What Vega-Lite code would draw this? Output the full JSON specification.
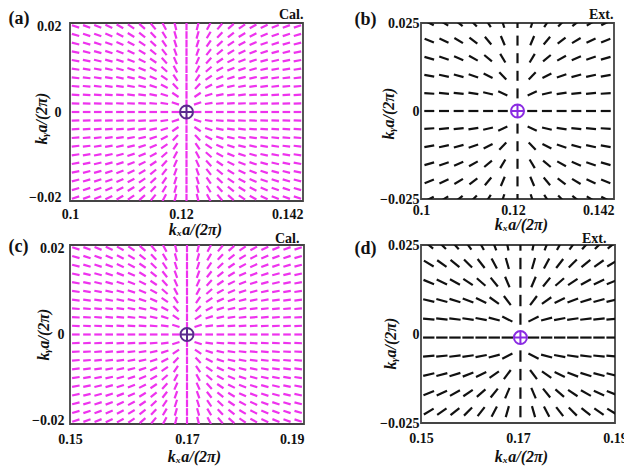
{
"$schema": "https://vega.github.io/schema/vega-lite/v6.json",
"background": "white",
"padding": {"left": 7, "top": 6, "right": 5, "bottom": 5},
"config": {
  "view": {"stroke": "#444", "strokeWidth": 1.8},
  "font": "Liberation Serif",
  "axis": {"grid": false, "ticks": false, "tickSize": 0, "domain": false, "labelFont": "Liberation Serif", "labelFontWeight": "bold", "labelFontSize": 14, "labelColor": "#111", "labelFlush": false, "labelOverlap": false, "format": ".3~f", "titleFont": "Liberation Serif", "titleFontWeight": "bold", "titleFontStyle": "italic", "titleFontSize": 16, "titleColor": "#111"}
},
"datasets": {
"cal": [
{"u":0.101,"v":0.151,"y":0.02,"t":-18},{"u":0.103,"v":0.1529,"y":0.02,"t":-20},{"u":0.105,"v":0.1548,"y":0.02,"t":-22},{"u":0.107,"v":0.1567,"y":0.02,"t":-25},{"u":0.109,"v":0.1586,"y":0.02,"t":-29},{"u":0.111,"v":0.1605,"y":0.02,"t":-34},{"u":0.113,"v":0.1624,"y":0.02,"t":-41},{"u":0.115,"v":0.1643,"y":0.02,"t":-50},{"u":0.117,"v":0.1662,"y":0.02,"t":-62},{"u":0.119,"v":0.1681,"y":0.02,"t":-76},{"u":0.121,"v":0.17,"y":0.02,"t":90},{"u":0.123,"v":0.1719,"y":0.02,"t":76},{"u":0.125,"v":0.1738,"y":0.02,"t":62},{"u":0.127,"v":0.1757,"y":0.02,"t":50},{"u":0.129,"v":0.1776,"y":0.02,"t":41},{"u":0.131,"v":0.1795,"y":0.02,"t":34},{"u":0.133,"v":0.1814,"y":0.02,"t":29},{"u":0.135,"v":0.1833,"y":0.02,"t":25},{"u":0.137,"v":0.1852,"y":0.02,"t":22},{"u":0.139,"v":0.1871,"y":0.02,"t":20},{"u":0.141,"v":0.189,"y":0.02,"t":18},
{"u":0.101,"v":0.151,"y":0.018,"t":-16},{"u":0.103,"v":0.1529,"y":0.018,"t":-18},{"u":0.105,"v":0.1548,"y":0.018,"t":-20},{"u":0.107,"v":0.1567,"y":0.018,"t":-23},{"u":0.109,"v":0.1586,"y":0.018,"t":-27},{"u":0.111,"v":0.1605,"y":0.018,"t":-31},{"u":0.113,"v":0.1624,"y":0.018,"t":-38},{"u":0.115,"v":0.1643,"y":0.018,"t":-47},{"u":0.117,"v":0.1662,"y":0.018,"t":-59},{"u":0.119,"v":0.1681,"y":0.018,"t":-74},{"u":0.121,"v":0.17,"y":0.018,"t":90},{"u":0.123,"v":0.1719,"y":0.018,"t":74},{"u":0.125,"v":0.1738,"y":0.018,"t":59},{"u":0.127,"v":0.1757,"y":0.018,"t":47},{"u":0.129,"v":0.1776,"y":0.018,"t":38},{"u":0.131,"v":0.1795,"y":0.018,"t":31},{"u":0.133,"v":0.1814,"y":0.018,"t":27},{"u":0.135,"v":0.1833,"y":0.018,"t":23},{"u":0.137,"v":0.1852,"y":0.018,"t":20},{"u":0.139,"v":0.1871,"y":0.018,"t":18},{"u":0.141,"v":0.189,"y":0.018,"t":16},
{"u":0.101,"v":0.151,"y":0.016,"t":-14},{"u":0.103,"v":0.1529,"y":0.016,"t":-16},{"u":0.105,"v":0.1548,"y":0.016,"t":-18},{"u":0.107,"v":0.1567,"y":0.016,"t":-20},{"u":0.109,"v":0.1586,"y":0.016,"t":-24},{"u":0.111,"v":0.1605,"y":0.016,"t":-28},{"u":0.113,"v":0.1624,"y":0.016,"t":-34},{"u":0.115,"v":0.1643,"y":0.016,"t":-43},{"u":0.117,"v":0.1662,"y":0.016,"t":-56},{"u":0.119,"v":0.1681,"y":0.016,"t":-72},{"u":0.121,"v":0.17,"y":0.016,"t":90},{"u":0.123,"v":0.1719,"y":0.016,"t":72},{"u":0.125,"v":0.1738,"y":0.016,"t":56},{"u":0.127,"v":0.1757,"y":0.016,"t":43},{"u":0.129,"v":0.1776,"y":0.016,"t":34},{"u":0.131,"v":0.1795,"y":0.016,"t":28},{"u":0.133,"v":0.1814,"y":0.016,"t":24},{"u":0.135,"v":0.1833,"y":0.016,"t":20},{"u":0.137,"v":0.1852,"y":0.016,"t":18},{"u":0.139,"v":0.1871,"y":0.016,"t":16},{"u":0.141,"v":0.189,"y":0.016,"t":14},
{"u":0.101,"v":0.151,"y":0.014,"t":-12},{"u":0.103,"v":0.1529,"y":0.014,"t":-14},{"u":0.105,"v":0.1548,"y":0.014,"t":-15},{"u":0.107,"v":0.1567,"y":0.014,"t":-18},{"u":0.109,"v":0.1586,"y":0.014,"t":-21},{"u":0.111,"v":0.1605,"y":0.014,"t":-25},{"u":0.113,"v":0.1624,"y":0.014,"t":-31},{"u":0.115,"v":0.1643,"y":0.014,"t":-39},{"u":0.117,"v":0.1662,"y":0.014,"t":-52},{"u":0.119,"v":0.1681,"y":0.014,"t":-70},{"u":0.121,"v":0.17,"y":0.014,"t":90},{"u":0.123,"v":0.1719,"y":0.014,"t":70},{"u":0.125,"v":0.1738,"y":0.014,"t":52},{"u":0.127,"v":0.1757,"y":0.014,"t":39},{"u":0.129,"v":0.1776,"y":0.014,"t":31},{"u":0.131,"v":0.1795,"y":0.014,"t":25},{"u":0.133,"v":0.1814,"y":0.014,"t":21},{"u":0.135,"v":0.1833,"y":0.014,"t":18},{"u":0.137,"v":0.1852,"y":0.014,"t":15},{"u":0.139,"v":0.1871,"y":0.014,"t":14},{"u":0.141,"v":0.189,"y":0.014,"t":12},
{"u":0.101,"v":0.151,"y":0.012,"t":-10},{"u":0.103,"v":0.1529,"y":0.012,"t":-12},{"u":0.105,"v":0.1548,"y":0.012,"t":-13},{"u":0.107,"v":0.1567,"y":0.012,"t":-15},{"u":0.109,"v":0.1586,"y":0.012,"t":-18},{"u":0.111,"v":0.1605,"y":0.012,"t":-21},{"u":0.113,"v":0.1624,"y":0.012,"t":-27},{"u":0.115,"v":0.1643,"y":0.012,"t":-34},{"u":0.117,"v":0.1662,"y":0.012,"t":-47},{"u":0.119,"v":0.1681,"y":0.012,"t":-66},{"u":0.121,"v":0.17,"y":0.012,"t":90},{"u":0.123,"v":0.1719,"y":0.012,"t":66},{"u":0.125,"v":0.1738,"y":0.012,"t":47},{"u":0.127,"v":0.1757,"y":0.012,"t":34},{"u":0.129,"v":0.1776,"y":0.012,"t":27},{"u":0.131,"v":0.1795,"y":0.012,"t":21},{"u":0.133,"v":0.1814,"y":0.012,"t":18},{"u":0.135,"v":0.1833,"y":0.012,"t":15},{"u":0.137,"v":0.1852,"y":0.012,"t":13},{"u":0.139,"v":0.1871,"y":0.012,"t":12},{"u":0.141,"v":0.189,"y":0.012,"t":10},
{"u":0.101,"v":0.151,"y":0.01,"t":-8},{"u":0.103,"v":0.1529,"y":0.01,"t":-9},{"u":0.105,"v":0.1548,"y":0.01,"t":-11},{"u":0.107,"v":0.1567,"y":0.01,"t":-12},{"u":0.109,"v":0.1586,"y":0.01,"t":-15},{"u":0.111,"v":0.1605,"y":0.01,"t":-18},{"u":0.113,"v":0.1624,"y":0.01,"t":-22},{"u":0.115,"v":0.1643,"y":0.01,"t":-29},{"u":0.117,"v":0.1662,"y":0.01,"t":-41},{"u":0.119,"v":0.1681,"y":0.01,"t":-62},{"u":0.121,"v":0.17,"y":0.01,"t":90},{"u":0.123,"v":0.1719,"y":0.01,"t":62},{"u":0.125,"v":0.1738,"y":0.01,"t":41},{"u":0.127,"v":0.1757,"y":0.01,"t":29},{"u":0.129,"v":0.1776,"y":0.01,"t":22},{"u":0.131,"v":0.1795,"y":0.01,"t":18},{"u":0.133,"v":0.1814,"y":0.01,"t":15},{"u":0.135,"v":0.1833,"y":0.01,"t":12},{"u":0.137,"v":0.1852,"y":0.01,"t":11},{"u":0.139,"v":0.1871,"y":0.01,"t":9},{"u":0.141,"v":0.189,"y":0.01,"t":8},
{"u":0.101,"v":0.151,"y":0.008,"t":-7},{"u":0.103,"v":0.1529,"y":0.008,"t":-7},{"u":0.105,"v":0.1548,"y":0.008,"t":-8},{"u":0.107,"v":0.1567,"y":0.008,"t":-10},{"u":0.109,"v":0.1586,"y":0.008,"t":-12},{"u":0.111,"v":0.1605,"y":0.008,"t":-14},{"u":0.113,"v":0.1624,"y":0.008,"t":-18},{"u":0.115,"v":0.1643,"y":0.008,"t":-24},{"u":0.117,"v":0.1662,"y":0.008,"t":-34},{"u":0.119,"v":0.1681,"y":0.008,"t":-56},{"u":0.121,"v":0.17,"y":0.008,"t":90},{"u":0.123,"v":0.1719,"y":0.008,"t":56},{"u":0.125,"v":0.1738,"y":0.008,"t":34},{"u":0.127,"v":0.1757,"y":0.008,"t":24},{"u":0.129,"v":0.1776,"y":0.008,"t":18},{"u":0.131,"v":0.1795,"y":0.008,"t":14},{"u":0.133,"v":0.1814,"y":0.008,"t":12},{"u":0.135,"v":0.1833,"y":0.008,"t":10},{"u":0.137,"v":0.1852,"y":0.008,"t":8},{"u":0.139,"v":0.1871,"y":0.008,"t":7},{"u":0.141,"v":0.189,"y":0.008,"t":7},
{"u":0.101,"v":0.151,"y":0.006,"t":-5},{"u":0.103,"v":0.1529,"y":0.006,"t":-5},{"u":0.105,"v":0.1548,"y":0.006,"t":-6},{"u":0.107,"v":0.1567,"y":0.006,"t":-7},{"u":0.109,"v":0.1586,"y":0.006,"t":-8},{"u":0.111,"v":0.1605,"y":0.006,"t":-10},{"u":0.113,"v":0.1624,"y":0.006,"t":-13},{"u":0.115,"v":0.1643,"y":0.006,"t":-18},{"u":0.117,"v":0.1662,"y":0.006,"t":-27},{"u":0.119,"v":0.1681,"y":0.006,"t":-47},{"u":0.121,"v":0.17,"y":0.006,"t":90},{"u":0.123,"v":0.1719,"y":0.006,"t":47},{"u":0.125,"v":0.1738,"y":0.006,"t":27},{"u":0.127,"v":0.1757,"y":0.006,"t":18},{"u":0.129,"v":0.1776,"y":0.006,"t":13},{"u":0.131,"v":0.1795,"y":0.006,"t":10},{"u":0.133,"v":0.1814,"y":0.006,"t":8},{"u":0.135,"v":0.1833,"y":0.006,"t":7},{"u":0.137,"v":0.1852,"y":0.006,"t":6},{"u":0.139,"v":0.1871,"y":0.006,"t":5},{"u":0.141,"v":0.189,"y":0.006,"t":5},
{"u":0.101,"v":0.151,"y":0.004,"t":-3},{"u":0.103,"v":0.1529,"y":0.004,"t":-3},{"u":0.105,"v":0.1548,"y":0.004,"t":-4},{"u":0.107,"v":0.1567,"y":0.004,"t":-5},{"u":0.109,"v":0.1586,"y":0.004,"t":-5},{"u":0.111,"v":0.1605,"y":0.004,"t":-7},{"u":0.113,"v":0.1624,"y":0.004,"t":-8},{"u":0.115,"v":0.1643,"y":0.004,"t":-12},{"u":0.117,"v":0.1662,"y":0.004,"t":-18},{"u":0.119,"v":0.1681,"y":0.004,"t":-34},{"u":0.121,"v":0.17,"y":0.004,"t":90},{"u":0.123,"v":0.1719,"y":0.004,"t":34},{"u":0.125,"v":0.1738,"y":0.004,"t":18},{"u":0.127,"v":0.1757,"y":0.004,"t":12},{"u":0.129,"v":0.1776,"y":0.004,"t":8},{"u":0.131,"v":0.1795,"y":0.004,"t":7},{"u":0.133,"v":0.1814,"y":0.004,"t":5},{"u":0.135,"v":0.1833,"y":0.004,"t":5},{"u":0.137,"v":0.1852,"y":0.004,"t":4},{"u":0.139,"v":0.1871,"y":0.004,"t":3},{"u":0.141,"v":0.189,"y":0.004,"t":3},
{"u":0.101,"v":0.151,"y":0.002,"t":-2},{"u":0.103,"v":0.1529,"y":0.002,"t":-2},{"u":0.105,"v":0.1548,"y":0.002,"t":-2},{"u":0.107,"v":0.1567,"y":0.002,"t":-2},{"u":0.109,"v":0.1586,"y":0.002,"t":-3},{"u":0.111,"v":0.1605,"y":0.002,"t":-3},{"u":0.113,"v":0.1624,"y":0.002,"t":-4},{"u":0.115,"v":0.1643,"y":0.002,"t":-5},{"u":0.117,"v":0.1662,"y":0.002,"t":-8},{"u":0.119,"v":0.1681,"y":0.002,"t":-18},{"u":0.121,"v":0.17,"y":0.002,"t":90},{"u":0.123,"v":0.1719,"y":0.002,"t":18},{"u":0.125,"v":0.1738,"y":0.002,"t":8},{"u":0.127,"v":0.1757,"y":0.002,"t":5},{"u":0.129,"v":0.1776,"y":0.002,"t":4},{"u":0.131,"v":0.1795,"y":0.002,"t":3},{"u":0.133,"v":0.1814,"y":0.002,"t":3},{"u":0.135,"v":0.1833,"y":0.002,"t":2},{"u":0.137,"v":0.1852,"y":0.002,"t":2},{"u":0.139,"v":0.1871,"y":0.002,"t":2},{"u":0.141,"v":0.189,"y":0.002,"t":2},
{"u":0.101,"v":0.151,"y":0,"t":0},{"u":0.103,"v":0.1529,"y":0,"t":0},{"u":0.105,"v":0.1548,"y":0,"t":0},{"u":0.107,"v":0.1567,"y":0,"t":0},{"u":0.109,"v":0.1586,"y":0,"t":0},{"u":0.111,"v":0.1605,"y":0,"t":0},{"u":0.113,"v":0.1624,"y":0,"t":0},{"u":0.115,"v":0.1643,"y":0,"t":0},{"u":0.117,"v":0.1662,"y":0,"t":0},{"u":0.119,"v":0.1681,"y":0,"t":0},{"u":0.123,"v":0.1719,"y":0,"t":0},{"u":0.125,"v":0.1738,"y":0,"t":0},{"u":0.127,"v":0.1757,"y":0,"t":0},{"u":0.129,"v":0.1776,"y":0,"t":0},{"u":0.131,"v":0.1795,"y":0,"t":0},{"u":0.133,"v":0.1814,"y":0,"t":0},{"u":0.135,"v":0.1833,"y":0,"t":0},{"u":0.137,"v":0.1852,"y":0,"t":0},{"u":0.139,"v":0.1871,"y":0,"t":0},{"u":0.141,"v":0.189,"y":0,"t":0},
{"u":0.101,"v":0.151,"y":-0.002,"t":2},{"u":0.103,"v":0.1529,"y":-0.002,"t":2},{"u":0.105,"v":0.1548,"y":-0.002,"t":2},{"u":0.107,"v":0.1567,"y":-0.002,"t":2},{"u":0.109,"v":0.1586,"y":-0.002,"t":3},{"u":0.111,"v":0.1605,"y":-0.002,"t":3},{"u":0.113,"v":0.1624,"y":-0.002,"t":4},{"u":0.115,"v":0.1643,"y":-0.002,"t":5},{"u":0.117,"v":0.1662,"y":-0.002,"t":8},{"u":0.119,"v":0.1681,"y":-0.002,"t":18},{"u":0.121,"v":0.17,"y":-0.002,"t":90},{"u":0.123,"v":0.1719,"y":-0.002,"t":-18},{"u":0.125,"v":0.1738,"y":-0.002,"t":-8},{"u":0.127,"v":0.1757,"y":-0.002,"t":-5},{"u":0.129,"v":0.1776,"y":-0.002,"t":-4},{"u":0.131,"v":0.1795,"y":-0.002,"t":-3},{"u":0.133,"v":0.1814,"y":-0.002,"t":-3},{"u":0.135,"v":0.1833,"y":-0.002,"t":-2},{"u":0.137,"v":0.1852,"y":-0.002,"t":-2},{"u":0.139,"v":0.1871,"y":-0.002,"t":-2},{"u":0.141,"v":0.189,"y":-0.002,"t":-2},
{"u":0.101,"v":0.151,"y":-0.004,"t":3},{"u":0.103,"v":0.1529,"y":-0.004,"t":3},{"u":0.105,"v":0.1548,"y":-0.004,"t":4},{"u":0.107,"v":0.1567,"y":-0.004,"t":5},{"u":0.109,"v":0.1586,"y":-0.004,"t":5},{"u":0.111,"v":0.1605,"y":-0.004,"t":7},{"u":0.113,"v":0.1624,"y":-0.004,"t":8},{"u":0.115,"v":0.1643,"y":-0.004,"t":12},{"u":0.117,"v":0.1662,"y":-0.004,"t":18},{"u":0.119,"v":0.1681,"y":-0.004,"t":34},{"u":0.121,"v":0.17,"y":-0.004,"t":90},{"u":0.123,"v":0.1719,"y":-0.004,"t":-34},{"u":0.125,"v":0.1738,"y":-0.004,"t":-18},{"u":0.127,"v":0.1757,"y":-0.004,"t":-12},{"u":0.129,"v":0.1776,"y":-0.004,"t":-8},{"u":0.131,"v":0.1795,"y":-0.004,"t":-7},{"u":0.133,"v":0.1814,"y":-0.004,"t":-5},{"u":0.135,"v":0.1833,"y":-0.004,"t":-5},{"u":0.137,"v":0.1852,"y":-0.004,"t":-4},{"u":0.139,"v":0.1871,"y":-0.004,"t":-3},{"u":0.141,"v":0.189,"y":-0.004,"t":-3},
{"u":0.101,"v":0.151,"y":-0.006,"t":5},{"u":0.103,"v":0.1529,"y":-0.006,"t":5},{"u":0.105,"v":0.1548,"y":-0.006,"t":6},{"u":0.107,"v":0.1567,"y":-0.006,"t":7},{"u":0.109,"v":0.1586,"y":-0.006,"t":8},{"u":0.111,"v":0.1605,"y":-0.006,"t":10},{"u":0.113,"v":0.1624,"y":-0.006,"t":13},{"u":0.115,"v":0.1643,"y":-0.006,"t":18},{"u":0.117,"v":0.1662,"y":-0.006,"t":27},{"u":0.119,"v":0.1681,"y":-0.006,"t":47},{"u":0.121,"v":0.17,"y":-0.006,"t":90},{"u":0.123,"v":0.1719,"y":-0.006,"t":-47},{"u":0.125,"v":0.1738,"y":-0.006,"t":-27},{"u":0.127,"v":0.1757,"y":-0.006,"t":-18},{"u":0.129,"v":0.1776,"y":-0.006,"t":-13},{"u":0.131,"v":0.1795,"y":-0.006,"t":-10},{"u":0.133,"v":0.1814,"y":-0.006,"t":-8},{"u":0.135,"v":0.1833,"y":-0.006,"t":-7},{"u":0.137,"v":0.1852,"y":-0.006,"t":-6},{"u":0.139,"v":0.1871,"y":-0.006,"t":-5},{"u":0.141,"v":0.189,"y":-0.006,"t":-5},
{"u":0.101,"v":0.151,"y":-0.008,"t":7},{"u":0.103,"v":0.1529,"y":-0.008,"t":7},{"u":0.105,"v":0.1548,"y":-0.008,"t":8},{"u":0.107,"v":0.1567,"y":-0.008,"t":10},{"u":0.109,"v":0.1586,"y":-0.008,"t":12},{"u":0.111,"v":0.1605,"y":-0.008,"t":14},{"u":0.113,"v":0.1624,"y":-0.008,"t":18},{"u":0.115,"v":0.1643,"y":-0.008,"t":24},{"u":0.117,"v":0.1662,"y":-0.008,"t":34},{"u":0.119,"v":0.1681,"y":-0.008,"t":56},{"u":0.121,"v":0.17,"y":-0.008,"t":90},{"u":0.123,"v":0.1719,"y":-0.008,"t":-56},{"u":0.125,"v":0.1738,"y":-0.008,"t":-34},{"u":0.127,"v":0.1757,"y":-0.008,"t":-24},{"u":0.129,"v":0.1776,"y":-0.008,"t":-18},{"u":0.131,"v":0.1795,"y":-0.008,"t":-14},{"u":0.133,"v":0.1814,"y":-0.008,"t":-12},{"u":0.135,"v":0.1833,"y":-0.008,"t":-10},{"u":0.137,"v":0.1852,"y":-0.008,"t":-8},{"u":0.139,"v":0.1871,"y":-0.008,"t":-7},{"u":0.141,"v":0.189,"y":-0.008,"t":-7},
{"u":0.101,"v":0.151,"y":-0.01,"t":8},{"u":0.103,"v":0.1529,"y":-0.01,"t":9},{"u":0.105,"v":0.1548,"y":-0.01,"t":11},{"u":0.107,"v":0.1567,"y":-0.01,"t":12},{"u":0.109,"v":0.1586,"y":-0.01,"t":15},{"u":0.111,"v":0.1605,"y":-0.01,"t":18},{"u":0.113,"v":0.1624,"y":-0.01,"t":22},{"u":0.115,"v":0.1643,"y":-0.01,"t":29},{"u":0.117,"v":0.1662,"y":-0.01,"t":41},{"u":0.119,"v":0.1681,"y":-0.01,"t":62},{"u":0.121,"v":0.17,"y":-0.01,"t":90},{"u":0.123,"v":0.1719,"y":-0.01,"t":-62},{"u":0.125,"v":0.1738,"y":-0.01,"t":-41},{"u":0.127,"v":0.1757,"y":-0.01,"t":-29},{"u":0.129,"v":0.1776,"y":-0.01,"t":-22},{"u":0.131,"v":0.1795,"y":-0.01,"t":-18},{"u":0.133,"v":0.1814,"y":-0.01,"t":-15},{"u":0.135,"v":0.1833,"y":-0.01,"t":-12},{"u":0.137,"v":0.1852,"y":-0.01,"t":-11},{"u":0.139,"v":0.1871,"y":-0.01,"t":-9},{"u":0.141,"v":0.189,"y":-0.01,"t":-8},
{"u":0.101,"v":0.151,"y":-0.012,"t":10},{"u":0.103,"v":0.1529,"y":-0.012,"t":12},{"u":0.105,"v":0.1548,"y":-0.012,"t":13},{"u":0.107,"v":0.1567,"y":-0.012,"t":15},{"u":0.109,"v":0.1586,"y":-0.012,"t":18},{"u":0.111,"v":0.1605,"y":-0.012,"t":21},{"u":0.113,"v":0.1624,"y":-0.012,"t":27},{"u":0.115,"v":0.1643,"y":-0.012,"t":34},{"u":0.117,"v":0.1662,"y":-0.012,"t":47},{"u":0.119,"v":0.1681,"y":-0.012,"t":66},{"u":0.121,"v":0.17,"y":-0.012,"t":90},{"u":0.123,"v":0.1719,"y":-0.012,"t":-66},{"u":0.125,"v":0.1738,"y":-0.012,"t":-47},{"u":0.127,"v":0.1757,"y":-0.012,"t":-34},{"u":0.129,"v":0.1776,"y":-0.012,"t":-27},{"u":0.131,"v":0.1795,"y":-0.012,"t":-21},{"u":0.133,"v":0.1814,"y":-0.012,"t":-18},{"u":0.135,"v":0.1833,"y":-0.012,"t":-15},{"u":0.137,"v":0.1852,"y":-0.012,"t":-13},{"u":0.139,"v":0.1871,"y":-0.012,"t":-12},{"u":0.141,"v":0.189,"y":-0.012,"t":-10},
{"u":0.101,"v":0.151,"y":-0.014,"t":12},{"u":0.103,"v":0.1529,"y":-0.014,"t":14},{"u":0.105,"v":0.1548,"y":-0.014,"t":15},{"u":0.107,"v":0.1567,"y":-0.014,"t":18},{"u":0.109,"v":0.1586,"y":-0.014,"t":21},{"u":0.111,"v":0.1605,"y":-0.014,"t":25},{"u":0.113,"v":0.1624,"y":-0.014,"t":31},{"u":0.115,"v":0.1643,"y":-0.014,"t":39},{"u":0.117,"v":0.1662,"y":-0.014,"t":52},{"u":0.119,"v":0.1681,"y":-0.014,"t":70},{"u":0.121,"v":0.17,"y":-0.014,"t":90},{"u":0.123,"v":0.1719,"y":-0.014,"t":-70},{"u":0.125,"v":0.1738,"y":-0.014,"t":-52},{"u":0.127,"v":0.1757,"y":-0.014,"t":-39},{"u":0.129,"v":0.1776,"y":-0.014,"t":-31},{"u":0.131,"v":0.1795,"y":-0.014,"t":-25},{"u":0.133,"v":0.1814,"y":-0.014,"t":-21},{"u":0.135,"v":0.1833,"y":-0.014,"t":-18},{"u":0.137,"v":0.1852,"y":-0.014,"t":-15},{"u":0.139,"v":0.1871,"y":-0.014,"t":-14},{"u":0.141,"v":0.189,"y":-0.014,"t":-12},
{"u":0.101,"v":0.151,"y":-0.016,"t":14},{"u":0.103,"v":0.1529,"y":-0.016,"t":16},{"u":0.105,"v":0.1548,"y":-0.016,"t":18},{"u":0.107,"v":0.1567,"y":-0.016,"t":20},{"u":0.109,"v":0.1586,"y":-0.016,"t":24},{"u":0.111,"v":0.1605,"y":-0.016,"t":28},{"u":0.113,"v":0.1624,"y":-0.016,"t":34},{"u":0.115,"v":0.1643,"y":-0.016,"t":43},{"u":0.117,"v":0.1662,"y":-0.016,"t":56},{"u":0.119,"v":0.1681,"y":-0.016,"t":72},{"u":0.121,"v":0.17,"y":-0.016,"t":90},{"u":0.123,"v":0.1719,"y":-0.016,"t":-72},{"u":0.125,"v":0.1738,"y":-0.016,"t":-56},{"u":0.127,"v":0.1757,"y":-0.016,"t":-43},{"u":0.129,"v":0.1776,"y":-0.016,"t":-34},{"u":0.131,"v":0.1795,"y":-0.016,"t":-28},{"u":0.133,"v":0.1814,"y":-0.016,"t":-24},{"u":0.135,"v":0.1833,"y":-0.016,"t":-20},{"u":0.137,"v":0.1852,"y":-0.016,"t":-18},{"u":0.139,"v":0.1871,"y":-0.016,"t":-16},{"u":0.141,"v":0.189,"y":-0.016,"t":-14},
{"u":0.101,"v":0.151,"y":-0.018,"t":16},{"u":0.103,"v":0.1529,"y":-0.018,"t":18},{"u":0.105,"v":0.1548,"y":-0.018,"t":20},{"u":0.107,"v":0.1567,"y":-0.018,"t":23},{"u":0.109,"v":0.1586,"y":-0.018,"t":27},{"u":0.111,"v":0.1605,"y":-0.018,"t":31},{"u":0.113,"v":0.1624,"y":-0.018,"t":38},{"u":0.115,"v":0.1643,"y":-0.018,"t":47},{"u":0.117,"v":0.1662,"y":-0.018,"t":59},{"u":0.119,"v":0.1681,"y":-0.018,"t":74},{"u":0.121,"v":0.17,"y":-0.018,"t":90},{"u":0.123,"v":0.1719,"y":-0.018,"t":-74},{"u":0.125,"v":0.1738,"y":-0.018,"t":-59},{"u":0.127,"v":0.1757,"y":-0.018,"t":-47},{"u":0.129,"v":0.1776,"y":-0.018,"t":-38},{"u":0.131,"v":0.1795,"y":-0.018,"t":-31},{"u":0.133,"v":0.1814,"y":-0.018,"t":-27},{"u":0.135,"v":0.1833,"y":-0.018,"t":-23},{"u":0.137,"v":0.1852,"y":-0.018,"t":-20},{"u":0.139,"v":0.1871,"y":-0.018,"t":-18},{"u":0.141,"v":0.189,"y":-0.018,"t":-16},
{"u":0.101,"v":0.151,"y":-0.02,"t":18},{"u":0.103,"v":0.1529,"y":-0.02,"t":20},{"u":0.105,"v":0.1548,"y":-0.02,"t":22},{"u":0.107,"v":0.1567,"y":-0.02,"t":25},{"u":0.109,"v":0.1586,"y":-0.02,"t":29},{"u":0.111,"v":0.1605,"y":-0.02,"t":34},{"u":0.113,"v":0.1624,"y":-0.02,"t":41},{"u":0.115,"v":0.1643,"y":-0.02,"t":50},{"u":0.117,"v":0.1662,"y":-0.02,"t":62},{"u":0.119,"v":0.1681,"y":-0.02,"t":76},{"u":0.121,"v":0.17,"y":-0.02,"t":90},{"u":0.123,"v":0.1719,"y":-0.02,"t":-76},{"u":0.125,"v":0.1738,"y":-0.02,"t":-62},{"u":0.127,"v":0.1757,"y":-0.02,"t":-50},{"u":0.129,"v":0.1776,"y":-0.02,"t":-41},{"u":0.131,"v":0.1795,"y":-0.02,"t":-34},{"u":0.133,"v":0.1814,"y":-0.02,"t":-29},{"u":0.135,"v":0.1833,"y":-0.02,"t":-25},{"u":0.137,"v":0.1852,"y":-0.02,"t":-22},{"u":0.139,"v":0.1871,"y":-0.02,"t":-20},{"u":0.141,"v":0.189,"y":-0.02,"t":-18}
],
"extb": [
{"x":0.1018,"y":0.025,"t":-27},{"x":0.105,"y":0.025,"t":-32},{"x":0.1082,"y":0.025,"t":-38},{"x":0.1114,"y":0.025,"t":-46},{"x":0.1146,"y":0.025,"t":-57},{"x":0.1178,"y":0.025,"t":-72},{"x":0.121,"y":0.025,"t":90},{"x":0.1242,"y":0.025,"t":72},{"x":0.1274,"y":0.025,"t":57},{"x":0.1306,"y":0.025,"t":46},{"x":0.1338,"y":0.025,"t":38},{"x":0.137,"y":0.025,"t":32},{"x":0.1402,"y":0.025,"t":27},
{"x":0.1018,"y":0.02,"t":-22},{"x":0.105,"y":0.02,"t":-25},{"x":0.1082,"y":0.02,"t":-31},{"x":0.1114,"y":0.02,"t":-38},{"x":0.1146,"y":0.02,"t":-50},{"x":0.1178,"y":0.02,"t":-67},{"x":0.121,"y":0.02,"t":90},{"x":0.1242,"y":0.02,"t":67},{"x":0.1274,"y":0.02,"t":50},{"x":0.1306,"y":0.02,"t":38},{"x":0.1338,"y":0.02,"t":31},{"x":0.137,"y":0.02,"t":25},{"x":0.1402,"y":0.02,"t":22},
{"x":0.1018,"y":0.015,"t":-16},{"x":0.105,"y":0.015,"t":-19},{"x":0.1082,"y":0.015,"t":-23},{"x":0.1114,"y":0.015,"t":-29},{"x":0.1146,"y":0.015,"t":-40},{"x":0.1178,"y":0.015,"t":-59},{"x":0.121,"y":0.015,"t":90},{"x":0.1242,"y":0.015,"t":59},{"x":0.1274,"y":0.015,"t":40},{"x":0.1306,"y":0.015,"t":29},{"x":0.1338,"y":0.015,"t":23},{"x":0.137,"y":0.015,"t":19},{"x":0.1402,"y":0.015,"t":16},
{"x":0.1018,"y":0.01,"t":-10},{"x":0.105,"y":0.01,"t":-12},{"x":0.1082,"y":0.01,"t":-15},{"x":0.1114,"y":0.01,"t":-19},{"x":0.1146,"y":0.01,"t":-27},{"x":0.1178,"y":0.01,"t":-46},{"x":0.121,"y":0.01,"t":90},{"x":0.1242,"y":0.01,"t":46},{"x":0.1274,"y":0.01,"t":27},{"x":0.1306,"y":0.01,"t":19},{"x":0.1338,"y":0.01,"t":15},{"x":0.137,"y":0.01,"t":12},{"x":0.1402,"y":0.01,"t":10},
{"x":0.1018,"y":0.005,"t":-4},{"x":0.105,"y":0.005,"t":-5},{"x":0.1082,"y":0.005,"t":-6},{"x":0.1114,"y":0.005,"t":-9},{"x":0.1146,"y":0.005,"t":-13},{"x":0.1178,"y":0.005,"t":-24},{"x":0.121,"y":0.005,"t":90},{"x":0.1242,"y":0.005,"t":24},{"x":0.1274,"y":0.005,"t":13},{"x":0.1306,"y":0.005,"t":9},{"x":0.1338,"y":0.005,"t":6},{"x":0.137,"y":0.005,"t":5},{"x":0.1402,"y":0.005,"t":4},
{"x":0.1018,"y":0,"t":0},{"x":0.105,"y":0,"t":0},{"x":0.1082,"y":0,"t":0},{"x":0.1114,"y":0,"t":0},{"x":0.1146,"y":0,"t":0},{"x":0.1178,"y":0,"t":0},{"x":0.1242,"y":0,"t":0},{"x":0.1274,"y":0,"t":0},{"x":0.1306,"y":0,"t":0},{"x":0.1338,"y":0,"t":0},{"x":0.137,"y":0,"t":0},{"x":0.1402,"y":0,"t":0},
{"x":0.1018,"y":-0.005,"t":4},{"x":0.105,"y":-0.005,"t":5},{"x":0.1082,"y":-0.005,"t":6},{"x":0.1114,"y":-0.005,"t":9},{"x":0.1146,"y":-0.005,"t":13},{"x":0.1178,"y":-0.005,"t":24},{"x":0.121,"y":-0.005,"t":90},{"x":0.1242,"y":-0.005,"t":-24},{"x":0.1274,"y":-0.005,"t":-13},{"x":0.1306,"y":-0.005,"t":-9},{"x":0.1338,"y":-0.005,"t":-6},{"x":0.137,"y":-0.005,"t":-5},{"x":0.1402,"y":-0.005,"t":-4},
{"x":0.1018,"y":-0.01,"t":10},{"x":0.105,"y":-0.01,"t":12},{"x":0.1082,"y":-0.01,"t":15},{"x":0.1114,"y":-0.01,"t":19},{"x":0.1146,"y":-0.01,"t":27},{"x":0.1178,"y":-0.01,"t":46},{"x":0.121,"y":-0.01,"t":90},{"x":0.1242,"y":-0.01,"t":-46},{"x":0.1274,"y":-0.01,"t":-27},{"x":0.1306,"y":-0.01,"t":-19},{"x":0.1338,"y":-0.01,"t":-15},{"x":0.137,"y":-0.01,"t":-12},{"x":0.1402,"y":-0.01,"t":-10},
{"x":0.1018,"y":-0.015,"t":16},{"x":0.105,"y":-0.015,"t":19},{"x":0.1082,"y":-0.015,"t":23},{"x":0.1114,"y":-0.015,"t":29},{"x":0.1146,"y":-0.015,"t":40},{"x":0.1178,"y":-0.015,"t":59},{"x":0.121,"y":-0.015,"t":90},{"x":0.1242,"y":-0.015,"t":-59},{"x":0.1274,"y":-0.015,"t":-40},{"x":0.1306,"y":-0.015,"t":-29},{"x":0.1338,"y":-0.015,"t":-23},{"x":0.137,"y":-0.015,"t":-19},{"x":0.1402,"y":-0.015,"t":-16},
{"x":0.1018,"y":-0.02,"t":22},{"x":0.105,"y":-0.02,"t":25},{"x":0.1082,"y":-0.02,"t":31},{"x":0.1114,"y":-0.02,"t":38},{"x":0.1146,"y":-0.02,"t":50},{"x":0.1178,"y":-0.02,"t":67},{"x":0.121,"y":-0.02,"t":90},{"x":0.1242,"y":-0.02,"t":-67},{"x":0.1274,"y":-0.02,"t":-50},{"x":0.1306,"y":-0.02,"t":-38},{"x":0.1338,"y":-0.02,"t":-31},{"x":0.137,"y":-0.02,"t":-25},{"x":0.1402,"y":-0.02,"t":-22},
{"x":0.1018,"y":-0.025,"t":27},{"x":0.105,"y":-0.025,"t":32},{"x":0.1082,"y":-0.025,"t":38},{"x":0.1114,"y":-0.025,"t":46},{"x":0.1146,"y":-0.025,"t":57},{"x":0.1178,"y":-0.025,"t":72},{"x":0.121,"y":-0.025,"t":90},{"x":0.1242,"y":-0.025,"t":-72},{"x":0.1274,"y":-0.025,"t":-57},{"x":0.1306,"y":-0.025,"t":-46},{"x":0.1338,"y":-0.025,"t":-38},{"x":0.137,"y":-0.025,"t":-32},{"x":0.1402,"y":-0.025,"t":-27}
],
"extd": [
{"x":0.1516,"y":0.025,"t":-40},{"x":0.1543,"y":0.025,"t":-44},{"x":0.157,"y":0.025,"t":-48},{"x":0.1597,"y":0.025,"t":-54},{"x":0.1624,"y":0.025,"t":-61},{"x":0.1651,"y":0.025,"t":-69},{"x":0.1678,"y":0.025,"t":-78},{"x":0.1705,"y":0.025,"t":90},{"x":0.1732,"y":0.025,"t":78},{"x":0.1759,"y":0.025,"t":69},{"x":0.1786,"y":0.025,"t":61},{"x":0.1813,"y":0.025,"t":54},{"x":0.184,"y":0.025,"t":48},{"x":0.1867,"y":0.025,"t":44},{"x":0.1894,"y":0.025,"t":40},
{"x":0.1516,"y":0.0198,"t":-31},{"x":0.1543,"y":0.0198,"t":-35},{"x":0.157,"y":0.0198,"t":-39},{"x":0.1597,"y":0.0198,"t":-45},{"x":0.1624,"y":0.0198,"t":-52},{"x":0.1651,"y":0.0198,"t":-62},{"x":0.1678,"y":0.0198,"t":-74},{"x":0.1705,"y":0.0198,"t":90},{"x":0.1732,"y":0.0198,"t":74},{"x":0.1759,"y":0.0198,"t":62},{"x":0.1786,"y":0.0198,"t":52},{"x":0.1813,"y":0.0198,"t":45},{"x":0.184,"y":0.0198,"t":39},{"x":0.1867,"y":0.0198,"t":35},{"x":0.1894,"y":0.0198,"t":31},
{"x":0.1516,"y":0.0146,"t":-22},{"x":0.1543,"y":0.0146,"t":-25},{"x":0.157,"y":0.0146,"t":-29},{"x":0.1597,"y":0.0146,"t":-34},{"x":0.1624,"y":0.0146,"t":-41},{"x":0.1651,"y":0.0146,"t":-51},{"x":0.1678,"y":0.0146,"t":-67},{"x":0.1705,"y":0.0146,"t":90},{"x":0.1732,"y":0.0146,"t":67},{"x":0.1759,"y":0.0146,"t":51},{"x":0.1786,"y":0.0146,"t":41},{"x":0.1813,"y":0.0146,"t":34},{"x":0.184,"y":0.0146,"t":29},{"x":0.1867,"y":0.0146,"t":25},{"x":0.1894,"y":0.0146,"t":22},
{"x":0.1516,"y":0.0094,"t":-13},{"x":0.1543,"y":0.0094,"t":-15},{"x":0.157,"y":0.0094,"t":-17},{"x":0.1597,"y":0.0094,"t":-21},{"x":0.1624,"y":0.0094,"t":-26},{"x":0.1651,"y":0.0094,"t":-35},{"x":0.1678,"y":0.0094,"t":-53},{"x":0.1705,"y":0.0094,"t":90},{"x":0.1732,"y":0.0094,"t":53},{"x":0.1759,"y":0.0094,"t":35},{"x":0.1786,"y":0.0094,"t":26},{"x":0.1813,"y":0.0094,"t":21},{"x":0.184,"y":0.0094,"t":17},{"x":0.1867,"y":0.0094,"t":15},{"x":0.1894,"y":0.0094,"t":13},
{"x":0.1516,"y":0.0042,"t":-5},{"x":0.1543,"y":0.0042,"t":-6},{"x":0.157,"y":0.0042,"t":-7},{"x":0.1597,"y":0.0042,"t":-8},{"x":0.1624,"y":0.0042,"t":-11},{"x":0.1651,"y":0.0042,"t":-15},{"x":0.1678,"y":0.0042,"t":-27},{"x":0.1705,"y":0.0042,"t":90},{"x":0.1732,"y":0.0042,"t":27},{"x":0.1759,"y":0.0042,"t":15},{"x":0.1786,"y":0.0042,"t":11},{"x":0.1813,"y":0.0042,"t":8},{"x":0.184,"y":0.0042,"t":7},{"x":0.1867,"y":0.0042,"t":6},{"x":0.1894,"y":0.0042,"t":5},
{"x":0.1516,"y":-0.001,"t":0},{"x":0.1543,"y":-0.001,"t":0},{"x":0.157,"y":-0.001,"t":0},{"x":0.1597,"y":-0.001,"t":0},{"x":0.1624,"y":-0.001,"t":0},{"x":0.1651,"y":-0.001,"t":0},{"x":0.1678,"y":-0.001,"t":0},{"x":0.1732,"y":-0.001,"t":0},{"x":0.1759,"y":-0.001,"t":0},{"x":0.1786,"y":-0.001,"t":0},{"x":0.1813,"y":-0.001,"t":0},{"x":0.184,"y":-0.001,"t":0},{"x":0.1867,"y":-0.001,"t":0},{"x":0.1894,"y":-0.001,"t":0},
{"x":0.1516,"y":-0.0062,"t":5},{"x":0.1543,"y":-0.0062,"t":6},{"x":0.157,"y":-0.0062,"t":7},{"x":0.1597,"y":-0.0062,"t":8},{"x":0.1624,"y":-0.0062,"t":11},{"x":0.1651,"y":-0.0062,"t":15},{"x":0.1678,"y":-0.0062,"t":27},{"x":0.1705,"y":-0.0062,"t":90},{"x":0.1732,"y":-0.0062,"t":-27},{"x":0.1759,"y":-0.0062,"t":-15},{"x":0.1786,"y":-0.0062,"t":-11},{"x":0.1813,"y":-0.0062,"t":-8},{"x":0.184,"y":-0.0062,"t":-7},{"x":0.1867,"y":-0.0062,"t":-6},{"x":0.1894,"y":-0.0062,"t":-5},
{"x":0.1516,"y":-0.0114,"t":13},{"x":0.1543,"y":-0.0114,"t":15},{"x":0.157,"y":-0.0114,"t":17},{"x":0.1597,"y":-0.0114,"t":21},{"x":0.1624,"y":-0.0114,"t":26},{"x":0.1651,"y":-0.0114,"t":35},{"x":0.1678,"y":-0.0114,"t":53},{"x":0.1705,"y":-0.0114,"t":90},{"x":0.1732,"y":-0.0114,"t":-53},{"x":0.1759,"y":-0.0114,"t":-35},{"x":0.1786,"y":-0.0114,"t":-26},{"x":0.1813,"y":-0.0114,"t":-21},{"x":0.184,"y":-0.0114,"t":-17},{"x":0.1867,"y":-0.0114,"t":-15},{"x":0.1894,"y":-0.0114,"t":-13},
{"x":0.1516,"y":-0.0166,"t":22},{"x":0.1543,"y":-0.0166,"t":25},{"x":0.157,"y":-0.0166,"t":29},{"x":0.1597,"y":-0.0166,"t":34},{"x":0.1624,"y":-0.0166,"t":41},{"x":0.1651,"y":-0.0166,"t":51},{"x":0.1678,"y":-0.0166,"t":67},{"x":0.1705,"y":-0.0166,"t":90},{"x":0.1732,"y":-0.0166,"t":-67},{"x":0.1759,"y":-0.0166,"t":-51},{"x":0.1786,"y":-0.0166,"t":-41},{"x":0.1813,"y":-0.0166,"t":-34},{"x":0.184,"y":-0.0166,"t":-29},{"x":0.1867,"y":-0.0166,"t":-25},{"x":0.1894,"y":-0.0166,"t":-22},
{"x":0.1516,"y":-0.0218,"t":31},{"x":0.1543,"y":-0.0218,"t":35},{"x":0.157,"y":-0.0218,"t":39},{"x":0.1597,"y":-0.0218,"t":45},{"x":0.1624,"y":-0.0218,"t":52},{"x":0.1651,"y":-0.0218,"t":62},{"x":0.1678,"y":-0.0218,"t":74},{"x":0.1705,"y":-0.0218,"t":90},{"x":0.1732,"y":-0.0218,"t":-74},{"x":0.1759,"y":-0.0218,"t":-62},{"x":0.1786,"y":-0.0218,"t":-52},{"x":0.1813,"y":-0.0218,"t":-45},{"x":0.184,"y":-0.0218,"t":-39},{"x":0.1867,"y":-0.0218,"t":-35},{"x":0.1894,"y":-0.0218,"t":-31}
]
},
"columns": 2,
"spacing": {"row": 43, "column": 117},
"bounds": "flush",
"align": "all",
"concat": [
{
 "width": 233, "height": 178,
 "layer": [
  {
   "data": {"name": "cal"},
   "mark": {"type": "point", "shape": "M-1,0L1,0", "filled": false, "strokeWidth": 2.2, "size": 58, "opacity": 1, "strokeCap": "butt", "color": "#ee33ee", "clip": true},
   "encoding": {
    "x": {"field": "u", "type": "quantitative", "scale": {"domain": [0.1, 0.142], "nice": false, "zero": false}, "axis": {"values": [0.1, 0.12, 0.142], "title": "kₓa/(2π)", "labelPadding": 6.5, "labelAlign": {"condition": {"test": "datum.value > 0.141", "value": "right"}, "value": "center"}, "titleX": 125, "titleY": 28, "titleBaseline": "middle"}},
    "y": {"field": "y", "type": "quantitative", "scale": {"domain": [-0.0208, 0.0208], "nice": false, "zero": false}, "axis": {"values": [-0.02, 0, 0.02], "title": "kᵧa/(2π)", "labelPadding": 9, "titleX": -29, "titleY": 95, "titleBaseline": "middle"}},
    "angle": {"field": "t", "type": "quantitative", "scale": {"domain": [-90, 90], "range": [90, -90]}, "legend": null}
   }
  },
  {
   "data": {"values": [{"x": 0.121, "y": 0}]},
   "mark": {"type": "point", "shape": "M-1,0A1,1,0,1,1,1,0A1,1,0,1,1,-1,0ZM-1,0L1,0M0,-1L0,1", "filled": false, "strokeWidth": 2, "size": 169, "opacity": 1, "color": "#5b2a8e"},
   "encoding": {
    "x": {"field": "x", "type": "quantitative", "scale": {"domain": [0.1, 0.142], "nice": false, "zero": false}, "axis": {"orient": "top", "labels": false, "title": "(a)", "titleX": -62, "titleY": -5, "titleAlign": "left", "titleBaseline": "middle", "titleAngle": 0, "titleFontSize": 18, "titleFontStyle": "normal"}},
    "y": {"field": "y", "type": "quantitative", "scale": {"domain": [-0.0208, 0.0208], "nice": false, "zero": false}, "axis": {"orient": "right", "labels": false, "title": "Cal.", "titleX": 0, "titleY": -9, "titleAlign": "right", "titleBaseline": "middle", "titleAngle": 0, "titleFontSize": 14, "titleFontStyle": "normal"}}
   }
  }
 ],
 "resolve": {"axis": {"x": "independent", "y": "independent"}}
},
{
 "width": 193, "height": 176,
 "layer": [
  {
   "data": {"name": "extb"},
   "mark": {"type": "point", "shape": "M-1,0L1,0", "filled": false, "strokeWidth": 2.2, "size": 100, "opacity": 1, "strokeCap": "butt", "color": "#111111", "clip": true},
   "encoding": {
    "x": {"field": "x", "type": "quantitative", "scale": {"domain": [0.1, 0.142], "nice": false, "zero": false}, "axis": {"values": [0.1, 0.12, 0.142], "title": "kₓa/(2π)", "labelPadding": 4.5, "labelAlign": {"condition": {"test": "datum.value > 0.141", "value": "right"}, "value": "center"}, "titleX": 100, "titleY": 25, "titleBaseline": "middle"}},
    "y": {"field": "y", "type": "quantitative", "scale": {"domain": [-0.025, 0.025], "nice": false, "zero": false}, "axis": {"values": [-0.025, 0, 0.025], "title": "kᵧa/(2π)", "labelPadding": 2, "titleX": -33, "titleY": 90, "titleBaseline": "middle"}},
    "angle": {"field": "t", "type": "quantitative", "scale": {"domain": [-90, 90], "range": [90, -90]}, "legend": null}
   }
  },
  {
   "data": {"values": [{"x": 0.121, "y": 0}]},
   "mark": {"type": "point", "shape": "M-1,0A1,1,0,1,1,1,0A1,1,0,1,1,-1,0ZM-1,0L1,0M0,-1L0,1", "filled": false, "strokeWidth": 2, "size": 169, "opacity": 1, "color": "#8a2be2"},
   "encoding": {
    "x": {"field": "x", "type": "quantitative", "scale": {"domain": [0.1, 0.142], "nice": false, "zero": false}, "axis": {"orient": "top", "labels": false, "title": "(b)", "titleX": -67, "titleY": -4, "titleAlign": "left", "titleBaseline": "middle", "titleAngle": 0, "titleFontSize": 18, "titleFontStyle": "normal"}},
    "y": {"field": "y", "type": "quantitative", "scale": {"domain": [-0.025, 0.025], "nice": false, "zero": false}, "axis": {"orient": "right", "labels": false, "title": "Ext.", "titleX": -1, "titleY": -9, "titleAlign": "right", "titleBaseline": "middle", "titleAngle": 0, "titleFontSize": 14, "titleFontStyle": "normal"}}
   }
  }
 ],
 "resolve": {"axis": {"x": "independent", "y": "independent"}}
},
{
 "width": 234, "height": 179,
 "layer": [
  {
   "data": {"name": "cal"},
   "mark": {"type": "point", "shape": "M-1,0L1,0", "filled": false, "strokeWidth": 2.2, "size": 58, "opacity": 1, "strokeCap": "butt", "color": "#ee33ee", "clip": true},
   "encoding": {
    "x": {"field": "v", "type": "quantitative", "scale": {"domain": [0.15, 0.19], "nice": false, "zero": false}, "axis": {"values": [0.15, 0.17, 0.19], "title": "kₓa/(2π)", "labelPadding": 8.5, "labelAlign": {"condition": {"test": "datum.value > 0.189", "value": "right"}, "value": "center"}, "titleX": 124, "titleY": 32, "titleBaseline": "middle"}},
    "y": {"field": "y", "type": "quantitative", "scale": {"domain": [-0.0208, 0.0208], "nice": false, "zero": false}, "axis": {"values": [-0.02, 0, 0.02], "title": "kᵧa/(2π)", "labelPadding": 6, "titleX": -27, "titleY": 89, "titleBaseline": "middle"}},
    "angle": {"field": "t", "type": "quantitative", "scale": {"domain": [-90, 90], "range": [90, -90]}, "legend": null}
   }
  },
  {
   "data": {"values": [{"x": 0.17, "y": 0}]},
   "mark": {"type": "point", "shape": "M-1,0A1,1,0,1,1,1,0A1,1,0,1,1,-1,0ZM-1,0L1,0M0,-1L0,1", "filled": false, "strokeWidth": 2, "size": 169, "opacity": 1, "color": "#5b2a8e"},
   "encoding": {
    "x": {"field": "x", "type": "quantitative", "scale": {"domain": [0.15, 0.19], "nice": false, "zero": false}, "axis": {"orient": "top", "labels": false, "title": "(c)", "titleX": -62, "titleY": 1, "titleAlign": "left", "titleBaseline": "middle", "titleAngle": 0, "titleFontSize": 18, "titleFontStyle": "normal"}},
    "y": {"field": "y", "type": "quantitative", "scale": {"domain": [-0.0208, 0.0208], "nice": false, "zero": false}, "axis": {"orient": "right", "labels": false, "title": "Cal.", "titleX": -5, "titleY": -7, "titleAlign": "right", "titleBaseline": "middle", "titleAngle": 0, "titleFontSize": 14, "titleFontStyle": "normal"}}
   }
  }
 ],
 "resolve": {"axis": {"x": "independent", "y": "independent"}}
},
{
 "width": 194, "height": 178,
 "layer": [
  {
   "data": {"name": "extd"},
   "mark": {"type": "point", "shape": "M-1,0L1,0", "filled": false, "strokeWidth": 2.2, "size": 130, "opacity": 1, "strokeCap": "butt", "color": "#111111", "clip": true},
   "encoding": {
    "x": {"field": "x", "type": "quantitative", "scale": {"domain": [0.15, 0.19], "nice": false, "zero": false}, "axis": {"values": [0.15, 0.17, 0.19], "title": "kₓa/(2π)", "labelPadding": 8.5, "titleX": 100, "titleY": 33, "titleBaseline": "middle"}},
    "y": {"field": "y", "type": "quantitative", "scale": {"domain": [-0.025, 0.025], "nice": false, "zero": false}, "axis": {"values": [-0.025, 0, 0.025], "title": "kᵧa/(2π)", "labelPadding": 2, "titleX": -31, "titleY": 98, "titleBaseline": "middle"}},
    "angle": {"field": "t", "type": "quantitative", "scale": {"domain": [-90, 90], "range": [90, -90]}, "legend": null}
   }
  },
  {
   "data": {"values": [{"x": 0.1705, "y": -0.001}]},
   "mark": {"type": "point", "shape": "M-1,0A1,1,0,1,1,1,0A1,1,0,1,1,-1,0ZM-1,0L1,0M0,-1L0,1", "filled": false, "strokeWidth": 2, "size": 169, "opacity": 1, "color": "#8a2be2"},
   "encoding": {
    "x": {"field": "x", "type": "quantitative", "scale": {"domain": [0.15, 0.19], "nice": false, "zero": false}, "axis": {"orient": "top", "labels": false, "title": "(d)", "titleX": -67, "titleY": 3, "titleAlign": "left", "titleBaseline": "middle", "titleAngle": 0, "titleFontSize": 18, "titleFontStyle": "normal"}},
    "y": {"field": "y", "type": "quantitative", "scale": {"domain": [-0.025, 0.025], "nice": false, "zero": false}, "axis": {"orient": "right", "labels": false, "title": "Ext.", "titleX": -9, "titleY": -7, "titleAlign": "right", "titleBaseline": "middle", "titleAngle": 0, "titleFontSize": 14, "titleFontStyle": "normal"}}
   }
  }
 ],
 "resolve": {"axis": {"x": "independent", "y": "independent"}}
}
]
}
